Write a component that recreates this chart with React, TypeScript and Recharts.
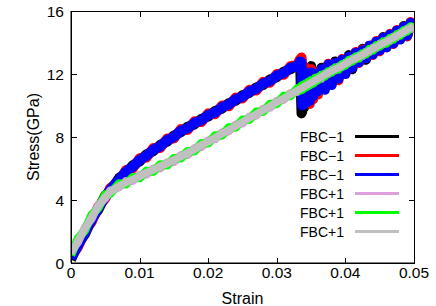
import React from 'react';
import { LineChart, Line, XAxis, YAxis, Legend } from 'recharts';

const strain = [
  0, 0.001, 0.002, 0.003, 0.004, 0.005, 0.0057, 0.007, 0.008, 0.009,
  0.01, 0.011, 0.012, 0.013, 0.014, 0.015, 0.016, 0.017, 0.018, 0.019,
  0.02, 0.021, 0.022, 0.023, 0.024, 0.025, 0.026, 0.027, 0.028, 0.029,
  0.03, 0.031, 0.032, 0.033, 0.0334, 0.0336, 0.0337, 0.0338, 0.034, 0.0342,
  0.0344, 0.0346, 0.0348, 0.035, 0.0353, 0.0356, 0.036, 0.0365,
  0.037, 0.0375, 0.038, 0.0385, 0.039, 0.0395, 0.04, 0.0405, 0.041, 0.0415,
  0.042, 0.0425, 0.043, 0.0435, 0.044, 0.0445, 0.045, 0.0455, 0.046, 0.0465,
  0.047, 0.0475, 0.048, 0.0485, 0.049, 0.0495, 0.05,
];

// FBC-1 runs
const minusA = [
  0.2, 1.2, 1.8, 2.8, 3.4, 4.3, 4.55, 5.4, 5.7, 6.2,
  6.45, 6.9, 7.1, 7.5, 7.7, 8.1, 8.3, 8.65, 8.8, 9.15,
  9.3, 9.65, 9.8, 10.15, 10.3, 10.65, 10.8, 11.15, 11.3, 11.65,
  11.8, 12.15, 12.3, 12.6, 12.7, 9.5, 9.6, 11.8, 9.9, 12.0,
  10.1, 12.4, 10.4, 12.5, 10.5, 12.1, 11.0, 12.4,
  11.2, 12.5, 11.4, 12.8, 11.8, 12.8, 12.1, 13.2, 12.3, 13.3,
  12.8, 13.6, 12.9, 13.8, 13.3, 14.0, 13.5, 14.35, 13.7, 14.5,
  14.0, 14.7, 14.2, 15.05, 14.4, 15.2, 14.8,
];
const minusB = [
  0.4, 1.0, 2.0, 2.6, 3.6, 4.1, 4.75, 5.2, 5.9, 6.0,
  6.65, 6.7, 7.3, 7.3, 7.9, 7.9, 8.5, 8.45, 9.0, 8.95,
  9.5, 9.45, 10.0, 9.95, 10.5, 10.45, 11.0, 10.95, 11.5, 11.45,
  12.0, 11.95, 12.5, 12.6, 12.95, 13.05, 12.6, 12.3, 10.3, 12.4,
  10.3, 12.2, 10.1, 12.3, 10.4, 12.1, 10.7, 12.2,
  11.1, 12.65, 11.4, 12.65, 11.6, 12.95, 12.0, 13.05, 12.45, 13.4,
  12.7, 13.55, 13.05, 13.75, 13.2, 14.1, 13.45, 14.3, 13.75, 14.55,
  13.9, 14.8, 14.25, 15.0, 14.4, 15.3, 14.75,
];
const minusC = [
  0.3, 1.1, 1.9, 2.7, 3.5, 4.2, 4.65, 5.3, 5.8, 6.1,
  6.55, 6.8, 7.2, 7.4, 7.8, 8.0, 8.4, 8.55, 8.9, 9.05,
  9.4, 9.55, 9.9, 10.05, 10.4, 10.55, 10.9, 11.05, 11.4, 11.55,
  11.9, 12.05, 12.4, 12.5, 12.8, 12.75, 10.0, 12.0, 10.1, 12.1,
  10.2, 11.9, 10.3, 12.1, 10.6, 12.0, 10.9, 12.3,
  11.0, 12.6, 11.3, 12.7, 11.7, 12.9, 12.0, 13.1, 12.4, 13.35,
  12.75, 13.5, 13.0, 13.8, 13.25, 14.05, 13.5, 14.3, 13.7, 14.5,
  13.95, 14.75, 14.2, 15.0, 14.45, 15.25, 14.75,
];

// FBC+1 runs
const plusA = [
  0.7, 1.3, 2.25, 2.8, 3.7, 4.1, 4.6, 4.8, 5.2, 5.2,
  5.6, 5.6, 6.0, 6.0, 6.4, 6.4, 6.85, 6.85, 7.3, 7.35,
  7.8, 7.85, 8.3, 8.35, 8.8, 8.85, 9.3, 9.35, 9.8, 9.85,
  10.3, 10.35, 10.8, 10.85, 11.15, 11.0, 11.2, 11.05, 11.3, 11.15,
  11.4, 11.25, 11.5, 11.35, 11.6, 11.5, 11.8, 11.7,
  12.03, 11.99, 12.28, 12.22, 12.48, 12.44, 12.73, 12.7, 12.98, 12.92,
  13.18, 13.14, 13.43, 13.4, 13.68, 13.64, 13.93, 13.87, 14.13, 14.1,
  14.38, 14.34, 14.63, 14.6, 14.88, 14.84, 15.13,
];
const plusB = [
  0.5, 1.55, 2.05, 3.05, 3.5, 4.35, 4.4, 5.05, 5.0, 5.45,
  5.4, 5.85, 5.8, 6.25, 6.2, 6.65, 6.65, 7.1, 7.1, 7.6,
  7.6, 8.1, 8.1, 8.6, 8.6, 9.1, 9.1, 9.6, 9.6, 10.1,
  10.1, 10.6, 10.6, 11.1, 10.95, 11.25, 11.0, 11.3, 11.1, 11.4,
  11.2, 11.5, 11.3, 11.6, 11.4, 11.75, 11.6, 11.95,
  11.85, 12.17, 12.1, 12.4, 12.3, 12.62, 12.55, 12.88, 12.8, 13.1,
  13.0, 13.32, 13.25, 13.58, 13.5, 13.82, 13.75, 14.05, 13.95, 14.28,
  14.2, 14.52, 14.45, 14.78, 14.7, 15.02, 14.95,
];
const plusC = [
  0.6, 1.4, 2.15, 2.9, 3.6, 4.2, 4.5, 4.9, 5.1, 5.3,
  5.5, 5.75, 5.9, 6.15, 6.3, 6.55, 6.75, 7.0, 7.2, 7.5,
  7.7, 7.95, 8.2, 8.45, 8.7, 8.95, 9.2, 9.45, 9.7, 9.95,
  10.2, 10.45, 10.7, 10.95, 11.05, 11.1, 11.12, 11.15, 11.2, 11.25,
  11.3, 11.35, 11.4, 11.45, 11.52, 11.6, 11.7, 11.82,
  11.95, 12.08, 12.19, 12.31, 12.4, 12.53, 12.64, 12.78, 12.9, 13.01,
  13.1, 13.23, 13.34, 13.48, 13.6, 13.73, 13.84, 13.96, 14.05, 14.19,
  14.3, 14.43, 14.54, 14.68, 14.8, 14.93, 15.05,
];

const xTicks = [0, 0.01, 0.02, 0.03, 0.04, 0.05];
const yTicks = [0, 4, 8, 12, 16];
const xDomain = [0, 0.05];
const yDomain = [0, 16];

const series = [
  { key: 'mA', name: 'FBC\u22121', color: '#000000', width: 10, values: minusA },
  { key: 'mB', name: 'FBC\u22121', color: '#ff0000', width: 10, values: minusB },
  { key: 'mC', name: 'FBC\u22121', color: '#0000ff', width: 10, values: minusC },
  { key: 'pA', name: 'FBC+1', color: '#dda0dd', width: 8, values: plusA },
  { key: 'pB', name: 'FBC+1', color: '#00ff00', width: 8.5, values: plusB },
  { key: 'pC', name: 'FBC+1', color: '#c0c0c0', width: 7.5, values: plusC },
];

const data = strain.map((x, i) => {
  const row: any = { x };
  series.forEach(s => { row[s.key] = s.values[i]; });
  return row;
});

const FONT = '"Liberation Sans", Arial, Helvetica, sans-serif';
const W = 436;
const H = 306;
const MARGIN = { top: 11, right: 22, bottom: 0, left: 0 };
const Y_AXIS_W = 71;
const X_AXIS_H = 43;
const PLOT = {
  left: MARGIN.left + Y_AXIS_W,
  right: W - MARGIN.right,
  top: MARGIN.top,
  bottom: H - MARGIN.bottom - X_AXIS_H,
};
const PW = PLOT.right - PLOT.left;
const PH = PLOT.bottom - PLOT.top;
const TICK = 5;

const seriesIndex = (entry: any) => series.findIndex(s => s.name === entry.value && s.color === entry.color);

const renderLegend = (props: any) => {
  const items = (props.payload || [])
    .filter((e: any) => e.type !== 'none' && seriesIndex(e) >= 0)
    .sort((a: any, b: any) => seriesIndex(a) - seriesIndex(b));
  return (
    <div style={{ fontFamily: FONT, fontSize: 14, color: '#000' }}>
      {items.map((entry: any, i: number) => (
        <div key={i} style={{ display: 'flex', alignItems: 'center', height: 19 }}>
          <span style={{ width: 43, textAlign: 'right', whiteSpace: 'nowrap' }}>{entry.value}</span>
          <span style={{ marginLeft: 12, width: 44, height: 3, background: entry.color }} />
        </div>
      ))}
    </div>
  );
};

// gnuplot-style frame: closed border with inward ticks on all four sides
const Frame = () => {
  const mark = { position: 'absolute' as const, background: '#000' };
  return (
    <div
      style={{
        position: 'absolute',
        left: PLOT.left - 0.5,
        top: PLOT.top - 0.5,
        width: PW + 1,
        height: PH + 1,
        border: '1px solid #000',
        boxSizing: 'border-box',
        pointerEvents: 'none',
      }}
    >
      {xTicks.map(t => {
        const left = ((t - xDomain[0]) / (xDomain[1] - xDomain[0])) * PW;
        return (
          <React.Fragment key={`x${t}`}>
            <div style={{ ...mark, left: left - 0.5, top: 0, width: 1, height: TICK }} />
            <div style={{ ...mark, left: left - 0.5, bottom: 0, width: 1, height: TICK }} />
          </React.Fragment>
        );
      })}
      {yTicks.map(t => {
        const top = PH - ((t - yDomain[0]) / (yDomain[1] - yDomain[0])) * PH;
        return (
          <React.Fragment key={`y${t}`}>
            <div style={{ ...mark, top: top - 0.5, left: 0, height: 1, width: TICK }} />
            <div style={{ ...mark, top: top - 0.5, right: 0, height: 1, width: TICK }} />
          </React.Fragment>
        );
      })}
    </div>
  );
};

export default function App() {
  return (
    <>
      <style>{'body{margin:0}'}</style>
      <div style={{ position: 'relative', width: W, height: H }}>
        <LineChart width={W} height={H} data={data} margin={MARGIN} style={{ fontFamily: FONT }}>
          <XAxis
            dataKey="x"
            type="number"
            domain={xDomain}
            ticks={xTicks}
            allowDataOverflow
            interval={0}
            height={X_AXIS_H}
            stroke="#000"
            tickLine={false}
            tickSize={0}
            tickMargin={4}
            tick={{ fill: '#000', fontSize: 15.5 }}
            label={{ value: 'Strain', position: 'insideBottom', offset: 2, fill: '#000', fontSize: 16 }}
          />
          <YAxis
            type="number"
            domain={yDomain}
            ticks={yTicks}
            interval={0}
            width={Y_AXIS_W}
            stroke="#000"
            tickLine={false}
            tickSize={0}
            tickMargin={7}
            tick={{ fill: '#000', fontSize: 15.5 }}
            label={{ value: 'Stress(GPa)', angle: -90, position: 'insideLeft', offset: 33, fill: '#000', fontSize: 16, style: { textAnchor: 'middle' } }}
          />
          <Legend
            layout="vertical"
            align="center"
            verticalAlign="middle"
            content={renderLegend}
            wrapperStyle={{ position: 'absolute', left: 300, top: 127, width: 'auto', height: 'auto' }}
          />
          {series.map(s => (
            <Line
              key={s.key}
              type="linear"
              dataKey={s.key}
              name={s.name}
              stroke={s.color}
              strokeWidth={s.width}
              strokeLinejoin="round"
              dot={false}
              activeDot={false}
              legendType="line"
              isAnimationActive={false}
            />
          ))}
        </LineChart>
        <Frame />
      </div>
    </>
  );
}
